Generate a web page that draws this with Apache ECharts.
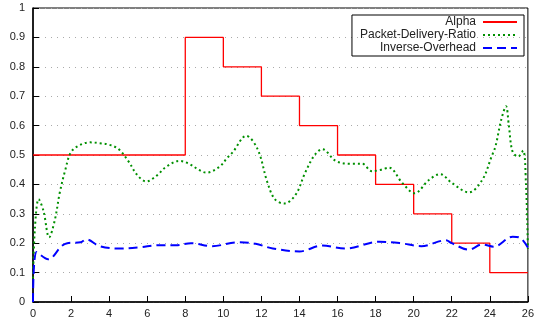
<!DOCTYPE html>
<html>
<head>
<meta charset="utf-8">
<script src="https://cdn.jsdelivr.net/npm/echarts@6/dist/echarts.min.js"></script>
<style>
  html, body { margin: 0; padding: 0; background: #fff; }
  #chart { width: 537px; height: 323px; }
</style>
</head>
<body>
<div id="chart"></div>
<script>
// Alpha (step, value holds until next x)
const alphaX = [0, 8, 10, 12, 14, 16, 18, 20, 22, 24, 26];
const alphaY = [0.5, 0.9, 0.8, 0.7, 0.6, 0.5, 0.4, 0.3, 0.2, 0.1, 0.1];

// Packet-Delivery-Ratio
const pdrX = [0, 0.1, 0.3, 0.55, 0.85, 1.15, 1.4, 1.7, 2.0, 2.5, 3.0, 3.5, 4.0, 4.5, 5.0, 5.5, 5.95, 6.5, 7.0, 7.7, 8.2, 8.7, 9.1, 9.8, 10.2, 10.5, 11.2, 11.8, 12.3, 12.7, 13.2, 13.8, 14.3, 14.8, 15.2, 15.9, 16.6, 17.3, 17.8, 18.3, 18.7, 19.4, 20.05, 20.8, 21.4, 22.0, 22.9, 23.6, 24.1, 24.3, 24.6, 24.85, 25.0, 25.2, 25.5, 25.75, 25.9, 26];
const pdrY = [0.08, 0.25, 0.35, 0.31, 0.22, 0.28, 0.37, 0.45, 0.51, 0.535, 0.543, 0.54, 0.535, 0.52, 0.48, 0.43, 0.41, 0.43, 0.46, 0.48, 0.47, 0.45, 0.44, 0.46, 0.49, 0.51, 0.565, 0.52, 0.41, 0.35, 0.335, 0.365, 0.44, 0.5, 0.52, 0.48, 0.47, 0.47, 0.445, 0.45, 0.457, 0.405, 0.37, 0.415, 0.435, 0.405, 0.373, 0.415, 0.496, 0.53, 0.62, 0.666, 0.6, 0.51, 0.495, 0.515, 0.4, 0.18];

// Inverse-Overhead
const ovhX = [0, 0.19, 0.8, 1.5, 1.8, 2.5, 2.8, 3.5, 4.5, 5.6, 6.6, 7.5, 8.3, 9.4, 10.8, 11.7, 12.6, 14.0, 15.2, 16.4, 18.2, 19.3, 20.4, 21.7, 22.0, 22.9, 23.6, 24.2, 25.2, 25.6, 26];
const ovhY = [0, 0.17, 0.145, 0.19, 0.2, 0.203, 0.213, 0.19, 0.182, 0.186, 0.193, 0.193, 0.2, 0.19, 0.203, 0.198, 0.182, 0.172, 0.192, 0.182, 0.205, 0.2, 0.19, 0.21, 0.2, 0.178, 0.196, 0.188, 0.222, 0.218, 0.185];

const zip = (xs, ys) => xs.map((x, i) => [x, ys[i]]);
const font = "Liberation Sans";

const chart = echarts.init(document.getElementById("chart"));
chart.setOption({
  animation: false,
  textStyle: { fontFamily: font },
  grid: {
    left: 33, right: 7, top: 8, bottom: 21,
    show: true, borderColor: "#000", borderWidth: 1
  },
  legend: {
    orient: "vertical",
    right: 13, top: 15,
    align: "right",
    padding: [1, 6, 2, 8],
    itemGap: 1,
    itemWidth: 34, itemHeight: 12,
    borderColor: "#000", borderWidth: 1,
    itemStyle: { opacity: 0 },
    textStyle: { fontFamily: font, fontSize: 12, color: "#222", padding: [0, 2, 0, 0] },
    data: ["Alpha", "Packet-Delivery-Ratio", "Inverse-Overhead"]
  },
  xAxis: {
    type: "value", min: 0, max: 26, interval: 2,
    axisLine: { lineStyle: { color: "#000", width: 1.5 } },
    axisTick: { inside: true, length: 6, lineStyle: { color: "#000" } },
    axisLabel: { color: "#222", fontSize: 11, margin: 6 },
    splitLine: { show: false }
  },
  yAxis: {
    type: "value", min: 0, max: 1, interval: 0.1,
    axisLine: { show: true, lineStyle: { color: "#000", width: 1.5 } },
    axisTick: { show: true, inside: true, length: 6, lineStyle: { color: "#000" } },
    axisLabel: { color: "#222", fontSize: 11, margin: 8 },
    splitLine: { show: true, lineStyle: { color: "#aaa", type: [1, 5] } }
  },
  series: [
    {
      name: "Alpha", type: "line", step: "end", symbol: "none",
      lineStyle: { color: "#ff0000", width: 1.3 },
      itemStyle: { color: "#ff0000" },
      data: zip(alphaX, alphaY)
    },
    {
      name: "Packet-Delivery-Ratio", type: "line", smooth: 0.35, symbol: "none",
      lineStyle: { color: "#009000", width: 2, type: [2, 3] },
      itemStyle: { color: "#009000" },
      data: zip(pdrX, pdrY)
    },
    {
      name: "Inverse-Overhead", type: "line", smooth: 0.35, symbol: "none",
      lineStyle: { color: "#0000ff", width: 2, type: [9, 5] },
      itemStyle: { color: "#0000ff" },
      data: zip(ovhX, ovhY)
    }
  ]
});
</script>
</body>
</html>
